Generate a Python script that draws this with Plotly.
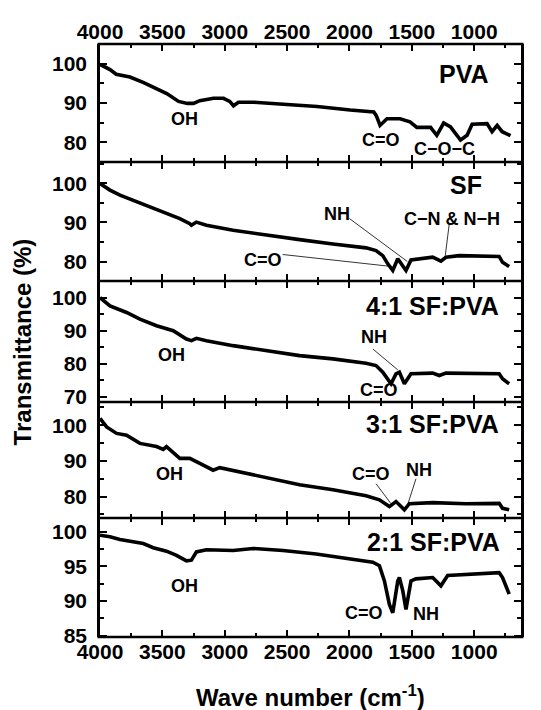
import plotly.graph_objects as go

# ---------------- data ----------------
wn_pva = [4000, 3920, 3870, 3760, 3650, 3545, 3465, 3370, 3300, 3250, 3200, 3090, 3010, 2960, 2930, 2890,
          2770, 2530, 2260, 1995, 1805, 1785, 1755, 1700, 1595, 1515, 1460, 1350, 1325, 1300, 1245, 1190,
          1110, 1057, 1017, 897, 857, 816, 776, 709]
t_pva = [99.8, 98.5, 97.3, 96.6, 95.2, 93.5, 92.4, 90.4, 89.9, 89.9, 90.6, 91.2, 91.2, 90.4, 89.3, 90.2,
         90.2, 89.7, 89.1, 88.2, 87.7, 86.8, 84.3, 86.0, 86.0, 85.2, 83.8, 83.8, 82.7, 81.8, 84.9, 83.9,
         80.6, 81.8, 84.6, 84.75, 82.7, 84.3, 82.7, 81.7]

wn_sf = [4000, 3920, 3840, 3733, 3600, 3467, 3360, 3280, 3267, 3227, 3147, 2933, 2667, 2400, 2133, 1867,
         1787, 1733, 1693, 1653, 1613, 1547, 1507, 1440, 1333, 1267, 1227, 1120, 800, 773, 720]
t_sf = [100.0, 98.3, 97.0, 95.7, 94.0, 92.3, 91.0, 89.7, 89.3, 90.1, 89.3, 88.0, 86.7, 85.6, 84.5, 83.5,
        82.8, 81.5, 79.4, 77.7, 80.7, 77.7, 80.4, 80.7, 81.1, 80.1, 81.1, 81.5, 81.3, 79.8, 78.7]

wn_41 = [4000, 3920, 3787, 3680, 3547, 3413, 3307, 3267, 3227, 3147, 2933, 2667, 2400, 2133, 1867, 1787,
         1733, 1667, 1627, 1600, 1560, 1507, 1333, 1280, 1227, 800, 773, 720]
t_41 = [100.0, 97.5, 95.5, 93.5, 91.5, 90.0, 87.5, 87.0, 87.7, 87.0, 85.5, 84.0, 82.5, 81.5, 80.2, 79.5,
        77.5, 74.0, 77.0, 77.5, 74.0, 77.0, 77.2, 76.5, 77.2, 77.0, 75.5, 74.0]

wn_31 = [4000, 3947, 3867, 3787, 3680, 3547, 3493, 3467, 3360, 3280, 3200, 3093, 3040, 2933, 2667, 2400,
         2133, 1867, 1760, 1680, 1627, 1560, 1520, 1333, 1067, 800, 773, 720]
t_31 = [101.9, 99.5, 97.7, 97.2, 94.9, 94.0, 93.2, 94.0, 90.7, 90.7, 89.3, 87.4, 88.1, 87.3, 85.1, 83.3,
        81.9, 80.2, 79.1, 77.2, 78.6, 76.3, 78.0, 78.3, 78.0, 78.1, 76.7, 76.3]

wn_21 = [4000, 3920, 3840, 3733, 3653, 3573, 3467, 3387, 3307, 3267, 3227, 3147, 2933, 2773, 2533, 2267,
         2000, 1813, 1760, 1720, 1680, 1653, 1613, 1600, 1573, 1547, 1507, 1467, 1333, 1267, 1213, 1067,
         800, 773, 747, 720]
t_21 = [99.5, 99.3, 98.9, 98.5, 98.3, 97.7, 97.2, 96.6, 95.8, 95.9, 97.1, 97.4, 97.3, 97.6, 97.3, 96.8,
        96.1, 95.6, 95.1, 92.9, 89.5, 88.3, 92.9, 93.4, 91.5, 88.8, 92.9, 93.2, 93.4, 92.2, 93.7, 93.8,
        94.1, 93.4, 92.2, 91.0]

x_ticks_major = 500
x_ticks_minor = 250
x_range = [4000, 625]

panel_names = ["PVA", "SF", "4:1 SF:PVA", "3:1 SF:PVA", "2:1 SF:PVA"]
y_ranges = [[75, 105], [75, 105.5], [68.5, 105], [74, 106.5], [84.8, 102]]
y_dticks = [10, 10, 10, 10, 5]
y_minor = [5, 5, 5, 5, 2.5]

series = [(wn_pva, t_pva), (wn_sf, t_sf), (wn_41, t_41), (wn_31, t_31), (wn_21, t_21)]

# ---------------- figure ----------------
FONT = "Liberation Sans, Arial, Helvetica, sans-serif"
domains = [(0.8010, 1.0), (0.6003, 0.8010), (0.3963, 0.6003), (0.2007, 0.3963), (0.0, 0.2007)]
PLOT_W = 421.0

fig = go.Figure()
layout = {}
for i, (wn, t) in enumerate(series):
    s = "" if i == 0 else str(i + 1)
    fig.add_trace(go.Scatter(x=wn, y=t, xaxis="x" + s, yaxis="y" + s, mode="lines",
                             line=dict(color="black", width=3.6), showlegend=False,
                             name=panel_names[i]))
    xa = dict(range=x_range, domain=[0, 1], anchor="y" + s, showline=False,
              mirror="allticks", ticks="inside", ticklen=7, tickwidth=2,
              tickcolor="black", tick0=0, dtick=x_ticks_major, showgrid=False, zeroline=False,
              minor=dict(ticks="inside", ticklen=4, tickwidth=2, dtick=x_ticks_minor, tick0=0,
                         tickcolor="black", showgrid=False),
              tickfont=dict(family=FONT, size=21, color="black", weight="bold"),
              showticklabels=(i == 0 or i == 4), fixedrange=True)
    if i == 0:
        xa["side"] = "top"
    ya = dict(range=y_ranges[i], domain=list(domains[i]), anchor="x" + s, showline=True,
              linewidth=2.5, linecolor="black", mirror="allticks", ticks="inside", ticklen=7,
              tickwidth=2, tickcolor="black", tick0=0, dtick=y_dticks[i], showgrid=False,
              zeroline=False, ticklabelstandoff=6,
              minor=dict(ticks="inside", ticklen=4, tickwidth=2, dtick=y_minor[i], tick0=0,
                         tickcolor="black", showgrid=False),
              tickfont=dict(family=FONT, size=21, color="black", weight="bold"), fixedrange=True)
    layout["xaxis" + s] = xa
    layout["yaxis" + s] = ya

fig.update_layout(**layout)

annotations = []
def lab(text, x, y, panel, size=18, xanchor="center"):
    s = "" if panel == 0 else str(panel + 1)
    annotations.append(dict(text=text, x=x, y=y, xref="x" + s, yref="y" + s, showarrow=False,
                            xanchor=xanchor, yanchor="middle",
                            font=dict(family=FONT, size=size, color="black", weight="bold")))

# panel titles
lab("PVA", 867, 97.25, 0, 25, "right")
lab("SF", 920, 99.5, 1, 25, "right")
lab("4:1 SF:PVA", 784, 97.6, 2, 25, "right")
lab("3:1 SF:PVA", 784, 100.3, 3, 25, "right")
lab("2:1 SF:PVA", 776, 98.6, 4, 25, "right")

# band labels
lab("OH", 3320, 86.0, 0)
lab("C=O", 1744, 80.5, 0)
lab("C\u2212O\u2212C", 1240, 78.3, 0)
lab("NH", 2104, 92.3, 1)
lab("C\u2212N & N\u2212H", 1176, 91.0, 1)
lab("C=O", 2696, 80.3, 1)
lab("OH", 3427, 82.7, 2)
lab("NH", 1800, 88.0, 2)
lab("C=O", 1760, 72.0, 2)
lab("OH", 3440, 86.4, 3)
lab("C=O", 1827, 86.4, 3)
lab("NH", 1440, 87.5, 3)
lab("OH", 3320, 92.1, 4)
lab("C=O", 1880, 88.3, 4)
lab("NH", 1387, 88.1, 4)

# axis titles
annotations.append(dict(text="Transmittance (%)", x=-0.185, y=0.497, xref="paper", yref="paper",
                        showarrow=False, textangle=-90, xanchor="center", yanchor="middle",
                        font=dict(family=FONT, size=24, color="black", weight="bold")))
annotations.append(dict(text="Wave number (cm<sup>-1</sup>)", x=0.5, y=-0.10, xref="paper",
                        yref="paper", showarrow=False, xanchor="center", yanchor="middle",
                        font=dict(family=FONT, size=24, color="black", weight="bold")))

shapes = []
def leader(x0, y0, x1, y1, panel):
    s = "" if panel == 0 else str(panel + 1)
    shapes.append(dict(type="line", x0=x0, y0=y0, x1=x1, y1=y1, xref="x" + s, yref="y" + s,
                       line=dict(color="black", width=0.8)))

leader(2000, 91.0, 1536, 80.0, 1)
leader(2536, 81.8, 1656, 78.7, 1)
leader(1200, 89.7, 1232, 81.5, 1)
leader(1813, 84.5, 1613, 78.2, 2)
leader(1787, 83.6, 1667, 78.0, 3)
leader(1467, 85.0, 1533, 77.8, 3)

# horizontal panel borders (single line between panels)
ext = 2.5 / PLOT_W
for yb in [1.0, 0.8010, 0.6003, 0.3963, 0.2007, 0.0]:
    shapes.append(dict(type="line", x0=-ext, x1=1 + ext, y0=yb, y1=yb, xref="paper", yref="paper",
                       line=dict(color="black", width=2.5)))

# page body has an 8px margin, so the figure is offset by 8px; compensate
fig.update_layout(annotations=annotations, shapes=shapes, width=533, height=702,
                  margin=dict(l=92, r=20, t=31, b=73, pad=0), plot_bgcolor="white",
                  paper_bgcolor="white", showlegend=False)

fig.write_html("out.html")
